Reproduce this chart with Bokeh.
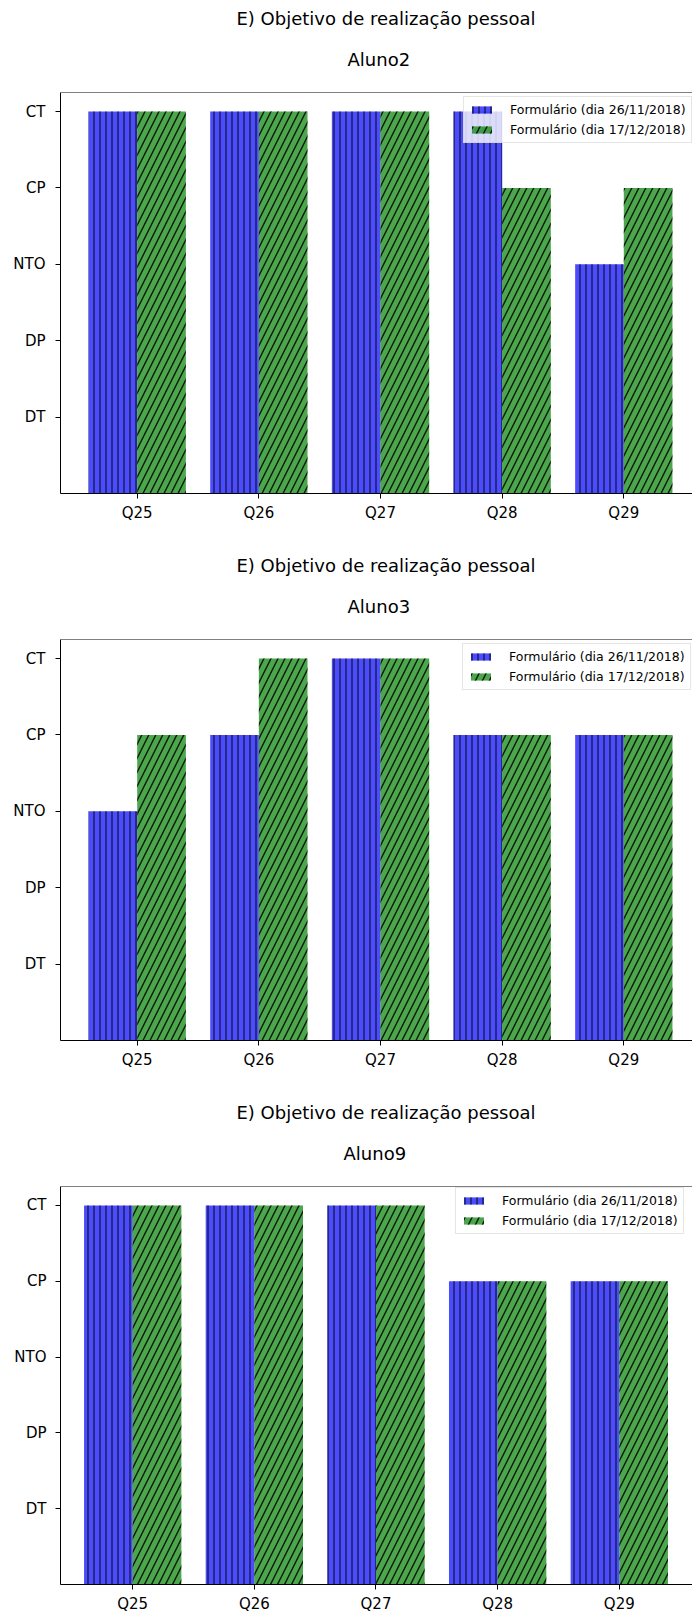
import numpy as np
from bokeh.plotting import figure
from bokeh.layouts import column
from bokeh.models import FixedTicker, Span, Title
from bokeh.embed import file_html
from bokeh.resources import INLINE

suptitle = "E) Objetivo de realização pessoal"
questions = ["Q25", "Q26", "Q27", "Q28", "Q29"]
levels = ["DT", "DP", "NTO", "CP", "CT"]
series_names = ["Formulário (dia 26/11/2018)", "Formulário (dia 17/12/2018)"]

students = ["Aluno2", "Aluno3", "Aluno9"]
aluno2_nov = ["CT", "CT", "CT", "CT", "NTO"]
aluno2_dec = ["CT", "CT", "CT", "CP", "CP"]
aluno3_nov = ["NTO", "CP", "CT", "CP", "CP"]
aluno3_dec = ["CP", "CT", "CT", "CP", "CP"]
aluno9_nov = ["CT", "CT", "CT", "CP", "CP"]
aluno9_dec = ["CT", "CT", "CT", "CP", "CP"]

FONT = "DejaVu Sans"


def to_num(vals):
    return [levels.index(v) + 1 for v in vals]


def style_axis(ax, standoff):
    ax.axis_line_color = "black"
    ax.axis_line_width = 1
    ax.major_tick_line_color = "black"
    ax.major_tick_out = 5
    ax.major_tick_in = 0
    ax.minor_tick_line_color = None
    ax.minor_tick_out = 0
    ax.axis_label_standoff = 0
    ax.major_label_text_font = FONT
    ax.major_label_text_font_size = "15px"
    ax.major_label_text_color = "black"
    ax.major_label_standoff = standoff


def panel(name, nov, dec, height, bottom, left, x_start, ystandoff, legend_x, sup_off, sub_off):
    width = 692
    unit = 121.65
    x_end = x_start + (width - left) / unit
    p = figure(width=width, height=height, x_range=(x_start, x_end), y_range=(0, 5.25),
               output_backend="svg", toolbar_location=None,
               min_border_left=left, min_border_right=0, min_border_top=92,
               min_border_bottom=bottom)
    p.outline_line_color = None
    p.background_fill_color = "white"
    p.border_fill_color = "white"
    idx = np.arange(len(questions))
    p.vbar(x=idx - 0.2, top=to_num(nov), width=0.4, bottom=0,
           fill_color="blue", fill_alpha=0.7, line_color=None,
           hatch_pattern="vertical_line", hatch_color="black", hatch_alpha=0.8,
           hatch_scale=6, hatch_weight=1.2, legend_label=series_names[0])
    p.vbar(x=idx + 0.2, top=to_num(dec), width=0.4, bottom=0,
           fill_color="green", fill_alpha=0.7, line_color=None,
           hatch_pattern="right_diagonal_line", hatch_color="black", hatch_alpha=0.85,
           hatch_scale=14, hatch_weight=1.4, legend_label=series_names[1])

    p.xgrid.visible = False
    p.ygrid.visible = False
    xax = p.xaxis[0]
    yax = p.yaxis[0]
    xax.ticker = FixedTicker(ticks=list(range(len(questions))))
    xax.major_label_overrides = {i: q for i, q in enumerate(questions)}
    yax.ticker = FixedTicker(ticks=[i + 1 for i in range(len(levels))])
    yax.major_label_overrides = {i + 1: l for i, l in enumerate(levels)}
    style_axis(xax, 5)
    style_axis(yax, ystandoff)

    p.add_layout(Span(location=5.25, dimension="width", line_color="black", line_width=1))

    p.add_layout(Title(text=name, align="left", offset=sub_off, text_font_size="18px",
                       text_font_style="normal", text_font=FONT, text_color="black",
                       standoff=46, vertical_align="bottom"), "above")
    p.add_layout(Title(text=suptitle, align="left", offset=sup_off, text_font_size="18px",
                       text_font_style="normal", text_font=FONT, text_color="black",
                       standoff=-11, vertical_align="bottom"), "above")

    lg = p.legend[0]
    lg.location = (legend_x, 350)
    lg.background_fill_color = "white"
    lg.background_fill_alpha = 0.8
    lg.border_line_color = "#cccccc"
    lg.border_line_width = 1
    lg.label_text_font = FONT
    lg.label_text_font_size = "12.5px"
    lg.label_text_color = "black"
    lg.glyph_width = 25
    lg.glyph_height = 9
    lg.label_standoff = 16
    lg.padding = 5
    lg.spacing = 5
    lg.margin = 0
    return p


p1 = panel(students[0], aluno2_nov, aluno2_dec, 547, 54, 60, -0.6305, 10, 403, 176, 287)
p2 = panel(students[1], aluno3_nov, aluno3_dec, 547, 54, 60, -0.6305, 10, 402, 176, 287)
p3 = panel(students[2], aluno9_nov, aluno9_dec, 521, 28, 60, -0.5935, 9, 395, 176, 283)

layout = column(p1, p2, p3, spacing=0)
open("out.html", "w").write(file_html(layout, INLINE))
